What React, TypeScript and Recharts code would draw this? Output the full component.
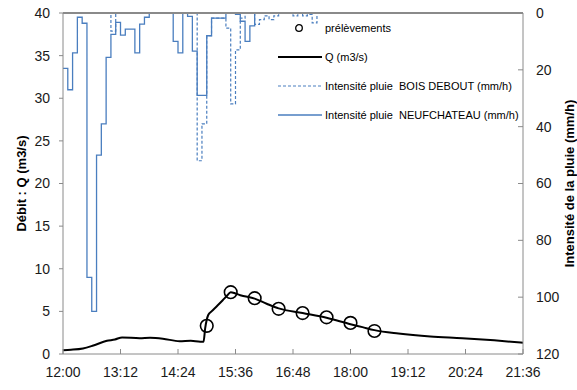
import React from 'react';
import { ComposedChart, Line, XAxis, YAxis, ReferenceLine, Legend } from 'recharts';

// minutes after 12:00
const qTimes = [0, 10, 25, 38, 55, 65, 74, 96, 109, 125, 146, 160, 172, 176, 178, 182, 186, 192, 200, 205, 210, 216, 222, 240, 255, 270, 300, 330, 360, 375, 390, 420, 460, 500, 540, 576];
const qValues = [0.45, 0.5, 0.65, 1.0, 1.55, 1.7, 1.95, 1.85, 1.9, 1.8, 1.5, 1.55, 1.45, 1.45, 3.0, 4.6, 5.0, 5.55, 6.3, 6.8, 7.25, 7.1, 6.9, 6.5, 5.9, 5.35, 4.8, 4.25, 3.5, 3.15, 2.8, 2.4, 2.05, 1.85, 1.6, 1.32];

const sampleTimes = [180, 210, 240, 270, 300, 330, 360, 390];
const sampleValues = [3.3, 7.25, 6.55, 5.3, 4.8, 4.3, 3.65, 2.7];

// rain intensity (mm/h), one value every 6 minutes from 12:00
const rainStep = 6;
const neufValues = [
  19.5, 27, 14, 1.5, 3.6, 93, 105, 50, 39, 15.6,
  7.5, 3.3, 7.8, 5.7, 5.7, 14, 3.9, 1.5, 0, 0,
  0, 0, 0, 10, 14, 0, 1.2, 13.4, 29, 29,
  8, 1.8, 1.8, 1.8, 0, 0, 0.5, 2.9, 10, 4.5,
  0, 0, 0,
];
const boisValues = [
  0, 0, 0, 0, 0, 0, 0, 0, 0, 0,
  6.4, 0, 0, 0, 0, 0, 0, 0, 0, 0,
  0, 0, 0, 0, 0, 0, 0, 0, 52, 39,
  8, 1.8, 1.8, 1.8, 5.3, 32, 13, 1.8, 0, 0,
  4, 2.3, 1, 2.3, 1, 0, 0, 0, 1, 0,
  1, 0.5, 3.5, 0, 0,
];

const xTicks = [0, 72, 144, 216, 288, 360, 432, 504, 576];
const qTicks = [0, 5, 10, 15, 20, 25, 30, 35, 40];
const rainTicks = [0, 20, 40, 60, 80, 100, 120];

const BLUE = '#4a7ebf';
const FONT = "'Liberation Sans', Arial, sans-serif";
const AXIS = '#8a8a8a';

const qData = qTimes.map((t, i) => ({ t, q: qValues[i] }));
const sampleData = sampleTimes.map((t, i) => ({ t, q: sampleValues[i] }));
const neufData = neufValues.map((v, i) => ({ t: i * rainStep, i: v }));
const boisData = boisValues.map((v, i) => ({ t: i * rainStep, i: v }));

const fmtTime = (m: number) => {
  const h = 12 + Math.floor(m / 60);
  const mm = m % 60;
  return `${h}:${mm < 10 ? '0' + mm : mm}`;
};

const AxisTitle = ({ viewBox, value, side }: any) => {
  const { x, y, width, height } = viewBox;
  const cx = side === 'left' ? x + 21 : x + width - 8;
  const cy = y + height / 2;
  return (
    <text
      x={cx}
      y={cy}
      transform={`rotate(-90, ${cx}, ${cy})`}
      textAnchor="middle"
      dominantBaseline="central"
      style={{ fontFamily: FONT, fontSize: 13, fontWeight: 'bold', fill: '#000' }}
    >
      {value}
    </text>
  );
};

const legendItems = [
  { key: 'samples', label: 'prélèvements' },
  { key: 'q', label: 'Q (m3/s)' },
  { key: 'bois', label: 'Intensité pluie  BOIS DEBOUT (mm/h)' },
  { key: 'neuf', label: 'Intensité pluie  NEUFCHATEAU (mm/h)' },
];

const renderLegend = () => (
  <div style={{ fontFamily: FONT, fontSize: 11, color: '#000' }}>
    {legendItems.map(item => (
      <div key={item.key} style={{ display: 'flex', alignItems: 'center', height: 29, whiteSpace: 'pre' }}>
        <svg width={47} height={10} style={{ display: 'block' }}>
          {item.key === 'samples' && <circle cx={21} cy={5} r={3.3} fill="none" stroke="#000" strokeWidth={1.3} />}
          {item.key === 'q' && <line x1={0} x2={44} y1={5} y2={5} stroke="#000" strokeWidth={1.8} />}
          {item.key === 'bois' && <line x1={0} x2={44} y1={5} y2={5} stroke={BLUE} strokeWidth={1.2} strokeDasharray="3 2" />}
          {item.key === 'neuf' && <line x1={0} x2={44} y1={5} y2={5} stroke={BLUE} strokeWidth={1.3} />}
        </svg>
        <span>{item.label}</span>
      </div>
    ))}
  </div>
);

const tickStyle = { fontFamily: FONT, fontSize: 14, fill: '#1a1a1a' };

export default function App() {
  return (
    <div style={{ position: 'absolute', left: 0, top: 0, width: 577, height: 390, background: '#fff' }}>
      <ComposedChart width={577} height={390} margin={{ top: 13, right: 0, bottom: 0, left: 0 }}>
        <XAxis
          dataKey="t"
          type="number"
          domain={[0, 576]}
          ticks={xTicks}
          tickFormatter={fmtTime}
          height={36}
          tick={tickStyle}
          tickSize={5}
          tickMargin={8}
          stroke={AXIS}
          tickLine={{ stroke: AXIS, transform: 'translate(0,-5)' }}
          allowDuplicatedCategory={false}
        />
        <YAxis
          yAxisId="q"
          domain={[0, 40]}
          ticks={qTicks}
          width={63}
          tick={tickStyle}
          tickSize={4}
          tickMargin={9}
          stroke={AXIS}
          label={<AxisTitle value="Débit : Q (m3/s)" side="left" />}
        />
        <YAxis
          yAxisId="rain"
          orientation="right"
          reversed
          domain={[0, 120]}
          ticks={rainTicks}
          width={54}
          tick={tickStyle}
          tickSize={5}
          tickMargin={8}
          stroke={AXIS}
          tickLine={{ stroke: AXIS, transform: 'translate(-5,0)' }}
          label={<AxisTitle value="Intensité de la pluie (mm/h)" side="right" />}
        />
        <Line yAxisId="rain" data={neufData} dataKey="i" type="stepAfter" stroke={BLUE} strokeWidth={1.3} dot={false} isAnimationActive={false} />
        <Line yAxisId="rain" data={boisData} dataKey="i" type="stepAfter" stroke={BLUE} strokeWidth={1.2} strokeDasharray="3 2" dot={false} isAnimationActive={false} />
        <Line yAxisId="q" data={qData} dataKey="q" type="monotone" stroke="#000" strokeWidth={2} dot={false} isAnimationActive={false} />
        <Line
          yAxisId="q"
          data={sampleData}
          dataKey="q"
          stroke="none"
          dot={{ r: 6.3, stroke: '#000', strokeWidth: 1.6, fill: 'none' }}
          isAnimationActive={false}
        />
        {/* plot frame top edge, drawn over the rain lines like the original */}
        <ReferenceLine yAxisId="q" y={40} stroke={AXIS} strokeWidth={2} />
        <Legend
          content={renderLegend}
          layout="vertical"
          align="center"
          verticalAlign="middle"
          wrapperStyle={{ left: 278, top: 13.5, width: 'auto' }}
        />
      </ComposedChart>
    </div>
  );
}
